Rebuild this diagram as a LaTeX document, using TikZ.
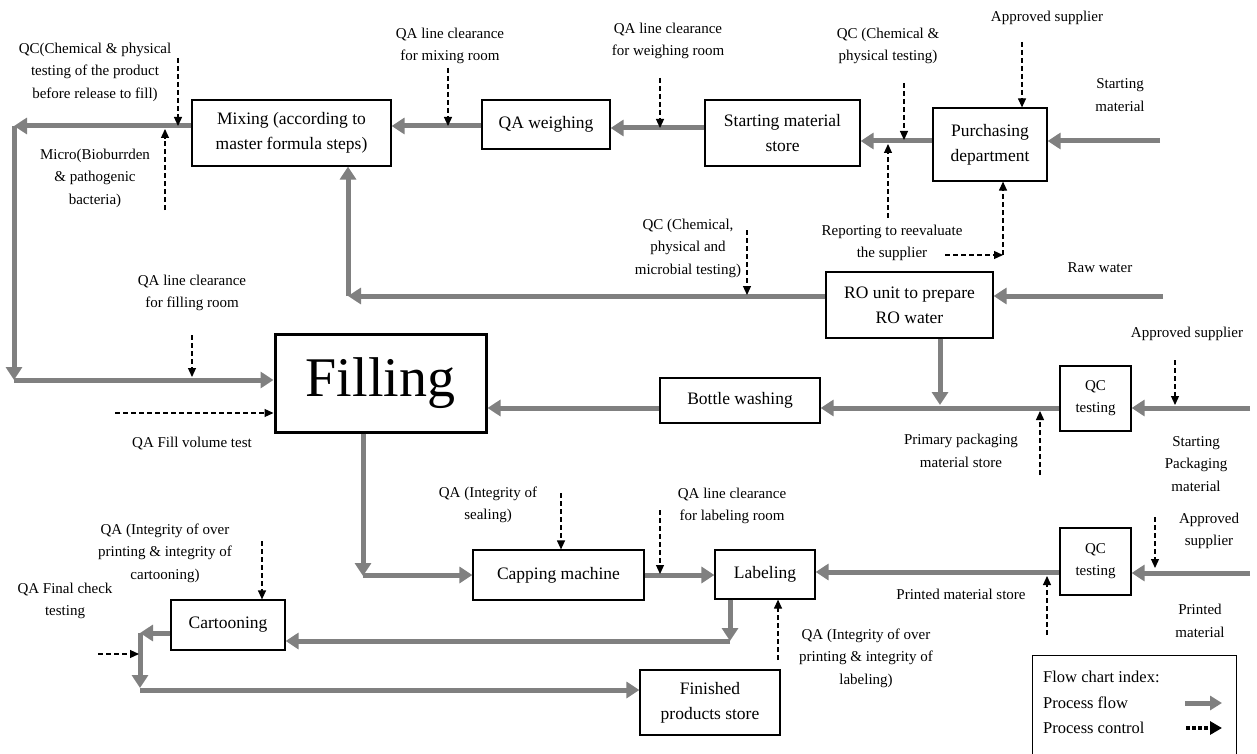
\documentclass[tikz,border=0pt]{standalone}
\usepackage{fontspec}
\setmainfont{Liberation Serif}
\usetikzlibrary{arrows.meta}
\definecolor{flowgray}{RGB}{128,128,128}
\tikzset{
  box/.style={draw=black, line width=1.2pt, align=center, inner sep=2pt, font=\fontsize{17.5}{25}\selectfont},
  lbl/.style={align=center, inner sep=0pt, font=\fontsize{15}{22.5}\selectfont},
  flow/.style={draw=flowgray, line width=5pt, -{Triangle[width=16pt,length=13pt]}},
  ctrl/.style={draw=black, line width=1.2pt, dash pattern=on 5pt off 3pt, -{Triangle[width=8pt,length=9pt]}},
}
\begin{document}
\begin{tikzpicture}[x=1pt,y=-1pt]
\useasboundingbox (0,0) rectangle (1257,754);
% ---------- boxes ----------
\node[box, minimum width=199pt, minimum height=66pt] (mix) at (291.5,133) {Mixing (according to\\master formula steps)};
\node[box, minimum width=128pt, minimum height=49pt] (qaw) at (546,124.5) {QA weighing};
\node[box, minimum width=155pt, minimum height=66pt] (sms) at (782.5,133) {Starting material\\store};
\node[box, minimum width=114pt, minimum height=73pt] (pur) at (990,144.5) {Purchasing\\department};
\node[box, minimum width=167pt, minimum height=66pt] (ro) at (909.5,305) {RO unit to prepare\\RO water};
\node[box, minimum width=71pt, minimum height=65pt, font=\fontsize{15}{22}\selectfont] (qc1) at (1095.5,398.5) {QC\\testing};
\node[box, minimum width=160pt, minimum height=45pt] (bw) at (740,400.5) {Bottle washing};
\node[box, minimum width=211pt, minimum height=98pt, line width=3pt, font=\fontsize{56}{60}\selectfont] (fill) at (380.5,383) {Filling};
\node[box, minimum width=171pt, minimum height=50pt] (cap) at (558.5,575) {Capping machine};
\node[box, minimum width=100pt, minimum height=49pt] (lab) at (765,574.5) {Labeling};
\node[box, minimum width=71pt, minimum height=67pt, font=\fontsize{15}{22}\selectfont] (qc2) at (1095.5,561.5) {QC\\testing};
\node[box, minimum width=114pt, minimum height=50pt] (cart) at (228,625) {Cartooning};
\node[box, minimum width=140pt, minimum height=65pt] (fin) at (710,702.5) {Finished\\products store};
% ---------- labels ----------
\node[lbl] (l1) at (95,72) {QC(Chemical \& physical\\testing of the product\\before release to fill)};
\node[lbl] (l2) at (95,178) {Micro(Bioburrden\\\& pathogenic\\bacteria)};
\node[lbl] (l3) at (450,46) {QA line clearance\\for mixing room};
\node[lbl] (l4) at (668,41) {QA line clearance\\for weighing room};
\node[lbl] (l5) at (888,46) {QC (Chemical \&\\physical testing)};
\node[lbl] (l6) at (1047,18) {Approved supplier};
\node[lbl] (l7) at (1120,95) {Starting\\material};
\node[lbl] (l8) at (892,243) {Reporting to reevaluate\\the supplier};
\node[lbl] (l9) at (688,248) {QC (Chemical,\\physical and\\microbial testing)};
\node[lbl] (l10) at (1100,268) {Raw water};
\node[lbl] (l11) at (192,293) {QA line clearance\\for filling room};
\node[lbl] (l12) at (1187,334) {Approved supplier};
\node[lbl] (l13) at (192,444) {QA Fill volume test};
\node[lbl] (l14) at (961,451) {Primary packaging\\material store};
\node[lbl] (l15) at (1196,464) {Starting\\Packaging\\material};
\node[lbl] (l16) at (488,505) {QA (Integrity of\\sealing)};
\node[lbl] (l17) at (732,506) {QA line clearance\\for labeling room};
\node[lbl] (l18) at (1209,531) {Approved\\supplier};
\node[lbl] (l19) at (165,553) {QA (Integrity of over\\printing \& integrity  of\\cartooning)};
\node[lbl] (l20) at (65,601) {QA Final check\\testing};
\node[lbl] (l21) at (961,594) {Printed material  store};
\node[lbl] (l22) at (1200,621) {Printed\\material};
\node[lbl] (l23) at (866,658) {QA (Integrity of over\\printing \& integrity  of\\labeling)};
% ---------- coordinates ----------
\coordinate (yA) at (0,126);
\coordinate (yB) at (0,128);
\coordinate (yC) at (0,141);
\coordinate (yD) at (0,296);
\coordinate (yE) at (0,408);
\coordinate (yF) at (0,380);
\coordinate (yG) at (0,413);
\coordinate (yH) at (0,575);
\coordinate (yI) at (0,572);
\coordinate (yJ) at (0,641);
\coordinate (yK) at (0,633);
\coordinate (yL) at (0,690);
\coordinate (c1) at (14,126);
\coordinate (c2) at (14,380);
\coordinate (c3) at (348,296);
\coordinate (c4) at (363,576);
\coordinate (c5) at (730,641);
\coordinate (c6) at (140,633);
\coordinate (c7) at (140,688);
\coordinate (c7b) at (140,690);
\coordinate (smin) at (1160,141);
\coordinate (rwin) at (1163,296);
\coordinate (pkin) at (1250,408);
\coordinate (prin) at (1250,573);
\coordinate (ropt) at (940,405);
% ---------- process flow ----------
\draw[flow] (mix.west |- yA) -- (c1);
\draw[flow] (c1) -- (c2);
\draw[flow] (c2) -- (fill.west |- yF);
\draw[flow] (qaw.west |- yA) -- (mix.east |- yA);
\draw[flow] (sms.west |- yB) -- (qaw.east |- yB);
\draw[flow] (pur.west |- yC) -- (sms.east |- yC);
\draw[flow] (smin) -- (pur.east |- yC);
\draw[flow] (ro.west |- yD) -- (c3);
\draw[flow] (c3) -- (mix.south -| c3);
\draw[flow] (rwin) -- (ro.east |- yD);
\draw[flow] (ro.south -| ropt) -- (ropt);
\draw[flow] (pkin) -- (qc1.east |- yE);
\draw[flow] (qc1.west |- yE) -- (bw.east |- yE);
\draw[flow] (bw.west |- yE) -- (fill.east |- yE);
\draw[flow] (fill.south -| c4) -- (c4);
\draw[flow] (c4 |- yH) -- (cap.west |- yH);
\draw[flow] (cap.east |- yH) -- (lab.west |- yH);
\draw[flow] (prin) -- (qc2.east |- prin);
\draw[flow] (qc2.west |- yI) -- (lab.east |- yI);
\draw[flow] (lab.south -| c5) -- (c5);
\draw[flow] (c5) -- (cart.east |- yJ);
\draw[flow] (cart.west |- yK) -- (c6);
\draw[flow] (c6) -- (c7);
\draw[flow] (c7b) -- (fin.west |- yL);
% ---------- process control ----------
\coordinate (d1) at (178,58);
\draw[ctrl] (d1) -- (d1 |- yA);
\coordinate (d2) at (165,210);
\draw[ctrl] (d2) -- (165,129);
\coordinate (d3) at (448,68);
\draw[ctrl] (d3) -- (d3 |- yA);
\coordinate (d4) at (660,78);
\draw[ctrl] (d4) -- (d4 |- yB);
\coordinate (d5) at (904,83);
\draw[ctrl] (d5) -- (904,140);
\coordinate (d6) at (1022,42);
\draw[ctrl] (d6) -- (pur.north -| d6);
\coordinate (d7) at (888,218);
\draw[ctrl] (d7) -- (888,144);
\coordinate (d8) at (945,255);
\coordinate (d8c) at (1003,255);
\draw[ctrl] (d8) -- (d8c);
\draw[ctrl] (d8c) -- (pur.south -| d8c);
\coordinate (d9) at (747,230);
\draw[ctrl] (d9) -- (747,295);
\coordinate (d10) at (192,335);
\draw[ctrl] (d10) -- (192,377);
\coordinate (d11) at (115,413);
\draw[ctrl] (d11) -- (fill.west |- yG);
\coordinate (d12) at (1175,360);
\draw[ctrl] (d12) -- (1175,405);
\coordinate (d13) at (1040,475);
\draw[ctrl] (d13) -- (1040,411);
\coordinate (d14) at (561,493);
\draw[ctrl] (d14) -- (cap.north -| d14);
\coordinate (d15) at (660,510);
\draw[ctrl] (d15) -- (660,574);
\coordinate (d16) at (1155,517);
\draw[ctrl] (d16) -- (1155,568);
\coordinate (d17) at (1047,635);
\draw[ctrl] (d17) -- (1047,576);
\coordinate (d18) at (778,660);
\draw[ctrl] (d18) -- (lab.south -| d18);
\coordinate (d19) at (262,541);
\draw[ctrl] (d19) -- (cart.north -| d19);
\coordinate (d20) at (98,654);
\draw[ctrl] (d20) -- (139,654);
% ---------- legend ----------
\node[draw=black, line width=1pt, minimum width=204pt, minimum height=106pt, inner sep=0pt] (leg) at (1134,708) {};
\node[anchor=west, inner sep=0pt, font=\fontsize{16.5}{20}\selectfont] (lg1) at (1043,677) {Flow chart index:};
\node[anchor=west, inner sep=0pt, font=\fontsize{16.5}{20}\selectfont] (lg2) at (1043,703) {Process flow};
\node[anchor=west, inner sep=0pt, font=\fontsize{16.5}{20}\selectfont] (lg3) at (1043,728) {Process control};
\coordinate (la1) at (1185,703);
\coordinate (la2) at (1222,703);
\draw[flow, -{Triangle[width=14pt,length=12pt]}] (la1) -- (la2);
\coordinate (lb1) at (1186,728);
\coordinate (lb2) at (1222,728);
\draw[draw=black, line width=3.5pt, dash pattern=on 3.5pt off 2.5pt, -{Triangle[width=13pt,length=12pt]}] (lb1) -- (lb2);
\end{tikzpicture}
\end{document}
